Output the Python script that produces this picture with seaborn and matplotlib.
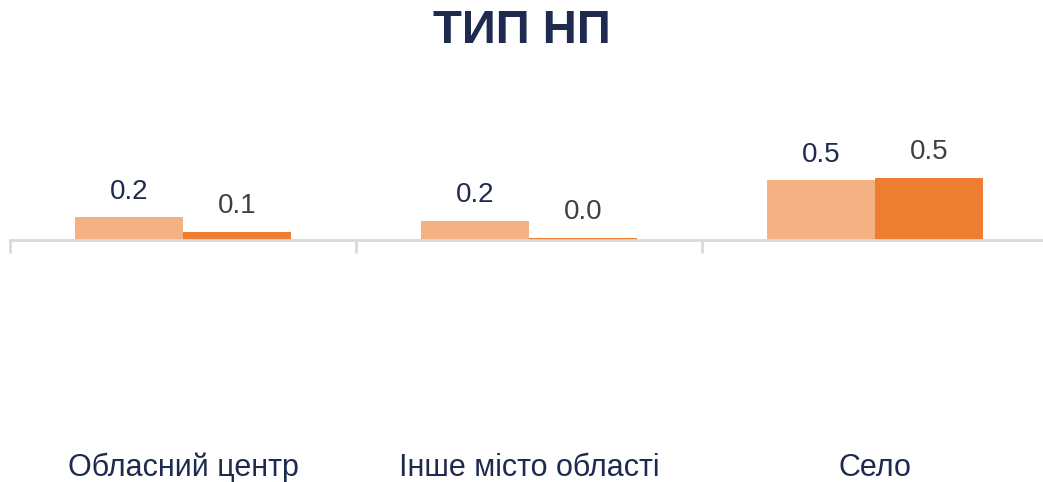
import matplotlib
matplotlib.use("Agg")
import matplotlib.pyplot as plt
import matplotlib.transforms as mtransforms
import seaborn as sns
import pandas as pd

# data
categories = ["Обласний центр", "Інше місто області", "Село"]
series_names = ["Серія 1", "Серія 2"]
light_values = [0.19, 0.16, 0.50]
dark_values = [0.07, 0.02, 0.52]

colors = ["#F4B183", "#ED7D31"]
label_colors = ["#1F2A50", "#404040"]
navy = "#1F2A50"
axis_gray = "#D9D9D9"

df = pd.DataFrame({
    "cat": categories * 2,
    "series": [series_names[0]] * 3 + [series_names[1]] * 3,
    "value": light_values + dark_values,
})

sns.set_style("white")
plt.rcParams["font.family"] = ["Liberation Sans Narrow", "Liberation Sans", "DejaVu Sans"]

W, H = 1043, 482
fig = plt.figure(figsize=(W / 100, H / 100), dpi=100)
# axes: left edge at x=10 px, baseline at y=240 px, 120 px per unit
ax = fig.add_axes([10 / W, 1 - 240 / H, 1038 / W, 140 / H])

sns.barplot(data=df, x="cat", y="value", hue="series", palette=colors,
            width=0.625, gap=0, saturation=1, legend=False, ax=ax,
            linewidth=0, edgecolor="none")

ax.set_xlim(-0.5, 2.5)
ax.set_ylim(0, 140 / 120)

for cont, col in zip(ax.containers, label_colors):
    ax.bar_label(cont, fmt="%.1f", padding=9, fontsize=20, color=col)

for s in ["top", "left", "right"]:
    ax.spines[s].set_visible(False)
ax.spines["bottom"].set_color(axis_gray)
ax.spines["bottom"].set_linewidth(2)
ax.set_yticks([])
ax.set_xlabel("")
ax.set_ylabel("")

# category separators as minor ticks
ax.set_xticks([-0.5, 0.5, 1.5, 2.5], minor=True)
ax.tick_params(axis="x", which="minor", bottom=True, length=9, width=2,
               color=axis_gray, direction="out")
ax.tick_params(axis="x", which="major", length=0, labelbottom=False)

# category labels far below the axis
trans = mtransforms.blended_transform_factory(ax.transData, fig.transFigure)
for i, c in enumerate(categories):
    ax.text(i, 1 - 468 / H, c, ha="center", va="center", fontsize=22, color=navy, transform=trans)

fig.text(0.5, 1 - 31 / H, "ТИП НП", ha="center", va="center", fontsize=34,
         fontweight="bold", color=navy, family=["Liberation Sans", "DejaVu Sans"])

fig.savefig("out.png", dpi=100)
